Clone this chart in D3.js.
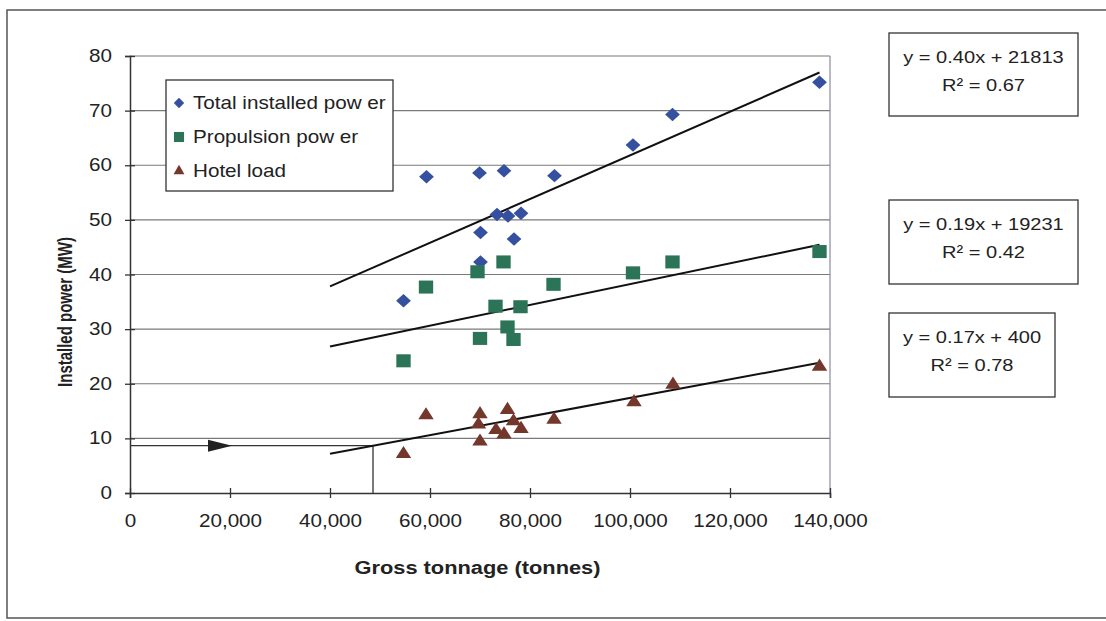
<!DOCTYPE html>
<html>
<head>
<meta charset="utf-8">
<script src="https://cdn.jsdelivr.net/npm/d3@7"></script>
<style>
  body { margin: 0; background: #fff; }
  svg { display: block; font-family: "Liberation Sans", Arial, sans-serif; }
</style>
</head>
<body>
<script>
// data (tonnes, MW)
const totalX = [54700, 59300, 69900, 70100, 70100, 73400, 74800, 75600, 76800, 78200, 84900, 100600, 108500, 137900];
const totalY = [35.2, 57.9, 58.6, 47.7, 42.3, 51.0, 59.0, 50.7, 46.5, 51.2, 58.1, 63.7, 69.3, 75.2];

const propX = [54700, 59200, 69500, 70000, 73100, 74700, 75500, 76700, 78100, 84700, 100600, 108500, 137900];
const propY = [24.2, 37.7, 40.5, 28.3, 34.2, 42.3, 30.4, 28.1, 34.1, 38.2, 40.3, 42.3, 44.2];

const hotelX = [54700, 59200, 69700, 70000, 70000, 73200, 74800, 75500, 76700, 78200, 84800, 100800, 108600, 137900];
const hotelY = [7.4, 14.5, 12.8, 14.7, 9.7, 11.8, 11.0, 15.5, 13.4, 12.0, 13.7, 16.9, 20.1, 23.4];

const seriesNames = ["Total installed pow er", "Propulsion pow er", "Hotel load"];

// trendlines y = a*x + b  (kW against tonnes), as printed in the boxes
const trendSlope = [0.40, 0.19, 0.17];
const trendIntercept = [21813, 19231, 400];
const trendR2 = ["0.67", "0.42", "0.78"];
const trendFrom = 40000;
const trendTo = 137900;

const xTicks = [0, 20000, 40000, 60000, 80000, 100000, 120000, 140000];
const yTicks = [0, 10, 20, 30, 40, 50, 60, 70, 80];

// the reading arrow on the hotel load line
const readX = 48600;

// the scanned figure is a bit wider than tall, text included
const sx = 1.18;

const svg = d3.select("body").append("svg")
  .attr("width", 1106)
  .attr("height", 621);

let marge = { top: 56, left: 130, right: 276, bottom: 128 };
let width = 1106 - marge.left - marge.right;
let height = 621 - marge.top - marge.bottom;

// put a text at (px,py) stretched horizontally
function label(parent, px, py, str, size, anchor, bold) {
  return parent.append("text")
    .attr("transform", `translate(${px},${py}) scale(${sx},1)`)
    .attr("text-anchor", anchor || "start")
    .attr("font-size", size)
    .attr("font-weight", bold ? "bold" : "normal")
    .attr("fill", "#222")
    .text(str);
}

// outer frame (right side runs off the picture)
svg.append("path")
  .attr("d", "M1120,10 H7 V618 H1120")
  .attr("fill", "none")
  .attr("stroke", "#555")
  .attr("stroke-width", 1.5);

let x = d3.scaleLinear().domain([0, 140000]).range([marge.left, marge.left + width]);
let y = d3.scaleLinear().domain([0, 80]).range([marge.top + height, marge.top]);

// gridlines
svg.append("g")
  .selectAll("line")
  .data(yTicks.slice(1))
  .enter()
  .append("line")
  .attr("x1", x(0)).attr("x2", x(140000))
  .attr("y1", d => y(d)).attr("y2", d => y(d))
  .attr("stroke", "#7a7a7a")
  .attr("stroke-width", 1.2);

// right edge of the plot area
svg.append("line")
  .attr("x1", x(140000)).attr("x2", x(140000))
  .attr("y1", y(80)).attr("y2", y(0))
  .attr("stroke", "#8a8a9a")
  .attr("stroke-width", 1.2);

// axes
let xAxis = svg.append("g")
  .attr("transform", `translate(0,${y(0)})`)
  .call(d3.axisBottom(x).tickValues(xTicks).tickFormat(d3.format(",")).tickSize(5).tickPadding(17));
let yAxis = svg.append("g")
  .attr("transform", `translate(${x(0)},0)`)
  .call(d3.axisLeft(y).tickValues(yTicks).tickSize(5).tickPadding(13));

[xAxis, yAxis].forEach(a => {
  a.select(".domain").attr("stroke", "#333").attr("stroke-width", 1.5);
  a.selectAll(".tick line").attr("stroke", "#333").attr("stroke-width", 1.3);
  a.selectAll("text")
    .attr("font-size", 17.5)
    .attr("fill", "#222")
    .attr("font-family", "Liberation Sans, Arial, sans-serif")
    .attr("transform", `scale(${sx},1)`);
});
yAxis.selectAll("text").attr("x", -18 / sx);
// ticks cross the axis line
xAxis.selectAll(".tick line").attr("y1", -5).attr("y2", 5);
yAxis.selectAll(".tick line").attr("x1", -5).attr("x2", 5);

// axis titles
label(svg, x(69500), 574, "Gross tonnage (tonnes)", 18.5, "middle", true);

svg.append("text")
  .attr("transform", `translate(72,312) scale(1.4,1) rotate(-90)`)
  .attr("text-anchor", "middle")
  .attr("font-size", 15)
  .attr("font-weight", "bold")
  .attr("fill", "#222")
  .text("Installed power (MW)");

// reading line: from y axis to the hotel trendline and down to x axis
let readY = (trendSlope[2] * readX + trendIntercept[2]) / 1000;
svg.append("path")
  .attr("d", `M${x(0)},${y(readY)} H${x(readX)} V${y(0)}`)
  .attr("fill", "none")
  .attr("stroke", "#333")
  .attr("stroke-width", 1.3);
svg.append("path")
  .attr("d", `M${x(15600)},${y(readY) - 6} L${x(20400)},${y(readY)} L${x(15600)},${y(readY) + 6} Z`)
  .attr("fill", "#222");

// trendlines
const trendG = svg.append("g");
trendSlope.forEach((a, i) => {
  let f = t => (a * t + trendIntercept[i]) / 1000;
  trendG.append("line")
    .attr("x1", x(trendFrom)).attr("y1", y(f(trendFrom)))
    .attr("x2", x(trendTo)).attr("y2", y(f(trendTo)))
    .attr("stroke", "#111")
    .attr("stroke-width", 2);
});

// markers
const colors = ["#34509e", "#2c7457", "#73372c"];
const sym = [d3.symbolDiamond2, d3.symbolSquare, d3.symbolTriangle];
const symSize = [115, 170, 85];
const series = [
  d3.zip(totalX, totalY),
  d3.zip(propX, propY),
  d3.zip(hotelX, hotelY)
];

series.forEach((pts, i) => {
  let shape = d3.symbol().type(sym[i]).size(symSize[i]);
  svg.append("g")
    .selectAll("path")
    .data(pts)
    .enter()
    .append("path")
    .attr("transform", d => `translate(${x(d[0])},${y(d[1]) + (i == 2 ? 1.5 : 0)}) scale(1.1,1)`)
    .attr("d", shape)
    .attr("fill", colors[i]);
});

// legend
let legend = svg.append("g").attr("transform", "translate(166,80)");
legend.append("rect")
  .attr("width", 227).attr("height", 111)
  .attr("fill", "#fff")
  .attr("stroke", "#333")
  .attr("stroke-width", 1.3);
seriesNames.forEach((name, i) => {
  let row = legend.append("g").attr("transform", `translate(0,${22 + i * 34})`);
  row.append("path")
    .attr("transform", "translate(13,1)")
    .attr("d", d3.symbol().type(sym[i]).size(symSize[i] * 0.6))
    .attr("fill", colors[i]);
  label(row, 27, 7, name, 17.5);
});

// equation boxes
const boxes = [
  { x: 889, y: 33, w: 189, h: 83 },
  { x: 889, y: 200, w: 189, h: 84 },
  { x: 889, y: 313, w: 166, h: 84 }
];
boxes.forEach((b, i) => {
  let g = svg.append("g").attr("transform", `translate(${b.x},${b.y})`);
  g.append("rect")
    .attr("width", b.w).attr("height", b.h)
    .attr("fill", "#fff")
    .attr("stroke", "#333")
    .attr("stroke-width", 1.3);
  label(g, b.w / 2, 30, `y = ${trendSlope[i].toFixed(2)}x + ${trendIntercept[i]}`, 17, "middle");
  label(g, b.w / 2, 58, `R² = ${trendR2[i]}`, 17, "middle");
});
</script>
</body>
</html>
